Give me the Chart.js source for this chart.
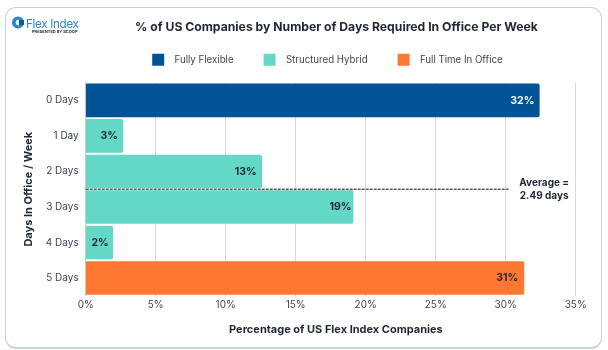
<!DOCTYPE html>
<html>
<head>
<meta charset="utf-8">
<script src="https://cdn.jsdelivr.net/npm/chart.js@4"></script>
<style>
  html, body { margin: 0; padding: 0; background: #fff; }
  #wrap { position: relative; width: 608px; height: 350px; overflow: hidden; }
  #card { position: absolute; left: 5px; top: 7px; width: 595px; height: 339px; border: 1px solid #ccd2dc; border-bottom-width: 2px; border-radius: 11px; }
  #logo { position: absolute; left: 11px; top: 16px; width: 70px; height: 20px; font-family: Inter, sans-serif; }
  #logo svg { position: absolute; left: 0; top: 0; }
  #logo .name { position: absolute; left: 15px; top: 0; font-size: 11.6px; letter-spacing: -0.3px; line-height: 16px; color: #2b86c5; white-space: nowrap; }
  #logo .sub { position: absolute; left: 21px; top: 13px; font-size: 4px; line-height: 5px; font-weight: 700; color: #333; white-space: nowrap; }
  canvas { position: absolute; left: 0; top: 0; }
</style>
</head>
<body>
<div id="wrap">
  <div id="card"></div>
  <canvas id="days_chart" width="608" height="350"></canvas>
  <div id="logo">
    <svg width="14" height="14" viewBox="0 0 14 14"><circle cx="7" cy="6.5" r="6" fill="#2b86c5"/><circle cx="7.5" cy="6.5" r="2.8" fill="#fff"/><rect x="8" y="4" width="5" height="5" fill="#0f5a94"/></svg>
    <span class="name">Flex Index</span>
    <span class="sub">PRESENTED BY SCOOP</span>
  </div>
</div>
<script>
const categories = ["0 Days", "1 Day", "2 Days", "3 Days", "4 Days", "5 Days"];
const fullyFlexible = [32.4, null, null, null, null, null];
const structuredHybrid = [null, 2.66, 12.57, 19.1, 1.93, null];
const fullTime = [null, null, null, null, null, 31.3];
const barLabels = ["32%", "3%", "13%", "19%", "2%", "31%"];
const xTicks = [0, 5, 10, 15, 20, 25, 30, 35];
const averageLine = 2.5;      // between 2 Days and 3 Days
const averageLineEnd = 30.2;
const averageText = ["Average =", "2.49 days"];

const fontName = "Inter, sans-serif";
const textColor = "#1f2733";
const labelInset = [5, 5, 5, 1.6, 4, 5.7];

// % labels at the end of each bar + dashed average line
const barExtras = {
    id: "barExtras",
    afterLayout(chart) {
        // the title and legend are not centred on the same point in the original
        const title = chart.titleBlock;
        title.left += 37.6;
        title.right += 37.6;
        title.top += 4;
        title.bottom += 4;
        const legend = chart.legend;
        legend.left += 28.6;
        legend.right += 28.6;
        legend.top -= 7;
        legend.bottom -= 7;
        legend.legendHitBoxes.forEach((b) => { b.left += 28.6; b.top -= 7; });
    },
    afterDatasetsDraw(chart) {
        const ctx = chart.ctx;
        const x = chart.scales.x;
        const y = chart.scales.y;
        ctx.save();
        ctx.font = "bold 10.5px " + fontName;
        ctx.textAlign = "right";
        ctx.textBaseline = "middle";
        chart.data.datasets.forEach((ds, d) => {
            chart.getDatasetMeta(d).data.forEach((bar, i) => {
                if (ds.data[i] == null) return;
                ctx.fillStyle = i === 0 ? "#ffffff" : textColor;
                ctx.fillText(barLabels[i], bar.x - labelInset[i], bar.y);
            });
        });

        const lineY = y.getPixelForValue(averageLine);
        ctx.beginPath();
        ctx.setLineDash([3, 1]);
        ctx.lineWidth = 1;
        ctx.strokeStyle = "#111";
        ctx.moveTo(x.getPixelForValue(0), lineY);
        ctx.lineTo(x.getPixelForValue(averageLineEnd), lineY);
        ctx.stroke();

        ctx.font = "bold 10px " + fontName;
        ctx.textAlign = "center";
        ctx.fillStyle = textColor;
        ctx.fillText(averageText[0], x.getPixelForValue(32.75), lineY - 6);
        ctx.fillText(averageText[1], x.getPixelForValue(32.75), lineY + 7);
        ctx.restore();
    },
};

const ctx = document.getElementById("days_chart").getContext("2d");

function makeBar(label, data, color) {
    return {
        label: label,
        data: data,
        backgroundColor: color,
        barThickness: 33,
        borderRadius: { topRight: 2, bottomRight: 2 },
        borderSkipped: false,
    };
}

new Chart(ctx, {
    type: "bar",
    data: {
        labels: categories,
        datasets: [
            makeBar("  Fully Flexible", fullyFlexible, "#025296"),
            makeBar("  Structured Hybrid", structuredHybrid, "#64d8c6"),
            makeBar("  Full Time In Office", fullTime, "#fe7733"),
        ],
    },
    options: {
        indexAxis: "y",
        responsive: false,
        animation: false,
        layout: { padding: { left: 22, right: 32.3, top: 16, bottom: 14 } },
        plugins: {
            tooltip: { enabled: false },
            title: {
                display: true,
                text: "% of US Companies by Number of Days Required In Office Per Week",
                color: textColor,
                font: { family: fontName, size: 12.2, weight: "bold" },
                padding: { top: 0, bottom: 0 },
            },
            legend: {
                position: "top",
                onClick: null,
                labels: {
                    boxWidth: 12,
                    boxHeight: 12,
                    padding: 30,
                    color: "#3d4450",
                    font: { family: fontName, size: 9.7 },
                },
            },
        },
        scales: {
            x: {
                type: "linear",
                stacked: true,
                min: 0,
                max: 35,
                afterBuildTicks(axis) {
                    axis.ticks = xTicks.map((v) => ({ value: v }));
                },
                ticks: {
                    color: "#3d4450",
                    font: { family: fontName, size: 10 },
                    padding: 3,
                    maxRotation: 0,
                    callback: (v) => v + "%",
                },
                grid: { color: "#d9dadd", lineWidth: 1, drawTicks: false },
                border: { display: false },
                title: {
                    display: true,
                    text: "    Percentage of US Flex Index Companies",
                    color: textColor,
                    font: { family: fontName, size: 11, weight: "bold" },
                    padding: { top: 9, bottom: 0 },
                },
            },
            y: {
                stacked: true,
                afterFit(axis) {
                    axis.width = 63.7;
                },
                ticks: {
                    color: "#3d4450",
                    font: { family: fontName, size: 10 },
                    padding: 7,
                },
                grid: { display: false, drawTicks: false },
                border: { display: true, color: "#c9cbd0" },
                title: {
                    display: true,
                    text: "Days In Office / Week",
                    color: textColor,
                    font: { family: fontName, size: 11, weight: "bold" },
                    padding: { top: 0, bottom: 10 },
                },
            },
        },
    },
    plugins: [barExtras],
});
</script>
</body>
</html>
